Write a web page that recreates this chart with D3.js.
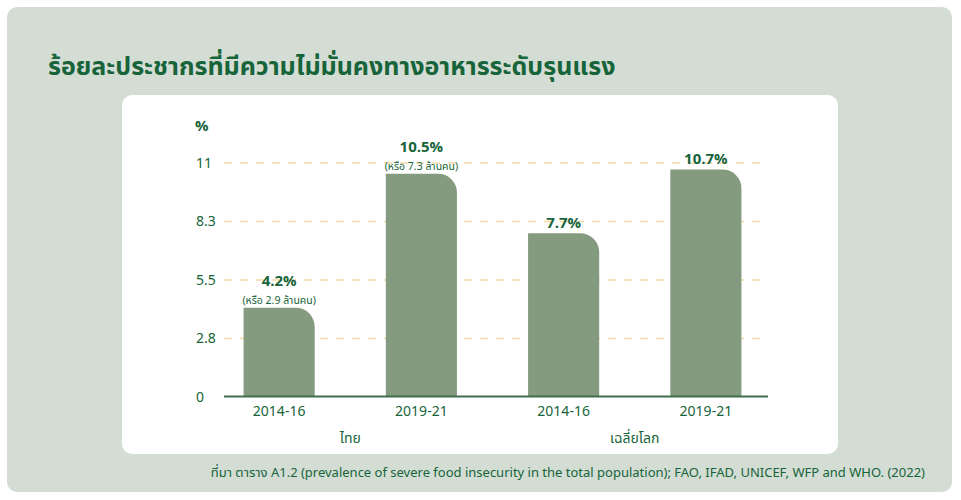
<!DOCTYPE html>
<html>
<head>
<meta charset="utf-8">
<script src="https://cdn.jsdelivr.net/npm/d3@7"></script>
<style>
  body { margin: 0; background: #ffffff; }
  svg text { font-family: "Noto Sans Thai", "Noto Sans", "Open Sans", sans-serif; }
</style>
</head>
<body>
<div id="container"></div>
<script>
/* DATA */
const periods = ["2014-16", "2019-21", "2014-16", "2019-21"]
const groups = ["ไทย", "ไทย", "เฉลี่ยโลก", "เฉลี่ยโลก"]
const groupNames = ["ไทย", "เฉลี่ยโลก"]
const values = [4.2, 10.5, 7.7, 10.7]
const notes = ["(หรือ 2.9 ล้านคน)", "(หรือ 7.3 ล้านคน)", "", ""]
const yTicks = [0, 2.75, 5.5, 8.25, 11]
const yTickLabels = ["0", "2.8", "5.5", "8.3", "11"]

const title = "ร้อยละประชากรที่มีความไม่มั่นคงทางอาหารระดับรุนแรง"
const source = "ที่มา ตาราง A1.2 (prevalence of severe food insecurity in the total population); FAO, IFAD, UNICEF, WFP and WHO. (2022)"

/* CONSTANTS */
const width = 961, height = 500
const darkGreen = "#17643a"
const barColor = "#849b80"

const data = values.map((v, i) => ({ i: i, value: v, period: periods[i], group: groups[i], note: notes[i] }))

const svg = d3.select("#container").append("svg")
  .attr("width", width)
  .attr("height", height)

/* background panel + white card */
svg.append("rect")
  .attr("x", 7).attr("y", 7).attr("width", 945).attr("height", 485)
  .attr("rx", 10).attr("fill", "#d3ddd4")

svg.append("rect")
  .attr("x", 122).attr("y", 95).attr("width", 716).attr("height", 359)
  .attr("rx", 10).attr("fill", "#ffffff")

svg.append("text")
  .attr("x", 48).attr("y", 75)
  .style("font-size", "25px").style("font-weight", "bold")
  .attr("fill", darkGreen)
  .text(title)

/* SCALES */
const xScale = d3.scaleBand()
  .domain(d3.range(values.length))
  .range([208, 777])
  .paddingInner(0.5)
  .paddingOuter(0.25)

const yScale = d3.scaleLinear()
  .domain([0, 11])
  .range([397, 163])

/* GRID */
svg.append("g")
  .selectAll("line")
  .data(yTicks.filter(d => d > 0))
  .join("line")
  .attr("x1", 224).attr("x2", 766)
  .attr("y1", d => yScale(d)).attr("y2", d => yScale(d))
  .attr("stroke", "#f6d9a9")
  .attr("stroke-width", 1.5)
  .attr("stroke-dasharray", "8 8")

/* Y AXIS labels */
const yAxis = d3.axisLeft(yScale)
  .tickValues(yTicks)
  .tickFormat((d, i) => yTickLabels[i])
  .tickSize(0)

const yAxisGroup = svg.append("g")
  .attr("transform", "translate(196, 0)")
  .call(yAxis)
yAxisGroup.select(".domain").remove()
yAxisGroup.selectAll("text")
  .attr("x", 0)
  .attr("text-anchor", "start")
  .attr("fill", darkGreen)
  .style("font-size", "14px")

svg.append("text")
  .attr("x", 195).attr("y", 131)
  .style("font-size", "15px").style("font-weight", "bold")
  .attr("fill", darkGreen)
  .text("%")

/* BARS: only top-right corner rounded */
const r = 19
function barPath(d) {
  const x0 = xScale(d.i), x1 = x0 + xScale.bandwidth()
  const y0 = yScale(d.value), yb = yScale(0)
  return `M${x0},${yb}V${y0}H${x1 - r}A${r},${r} 0 0 1 ${x1},${y0 + r}V${yb}Z`
}

svg.append("g")
  .selectAll("path")
  .data(data)
  .join("path")
  .attr("d", barPath)
  .attr("fill", barColor)

/* X AXIS */
const xAxis = d3.axisBottom(xScale)
  .tickFormat(i => periods[i])
  .tickSize(0)
  .tickPadding(9)

const xAxisGroup = svg.append("g")
  .attr("transform", `translate(0, ${yScale(0)})`)
  .call(xAxis)
xAxisGroup.select(".domain").remove()
xAxisGroup.selectAll("text")
  .attr("fill", darkGreen)
  .style("font-size", "14px")

svg.append("line")
  .attr("x1", 224).attr("x2", 768)
  .attr("y1", yScale(0) - 0.5).attr("y2", yScale(0) - 0.5)
  .attr("stroke", "#3e6e4e")
  .attr("stroke-width", 2)

/* group labels */
svg.append("g")
  .selectAll("text")
  .data(groupNames)
  .join("text")
  .attr("x", g => {
    const idx = data.filter(d => d.group === g).map(d => xScale(d.i) + xScale.bandwidth() / 2)
    return d3.mean(idx)
  })
  .attr("y", 443)
  .attr("text-anchor", "middle")
  .attr("fill", darkGreen)
  .style("font-size", "14px")
  .text(g => g)

/* value labels */
svg.append("g")
  .selectAll("text")
  .data(data)
  .join("text")
  .attr("x", d => xScale(d.i) + xScale.bandwidth() / 2)
  .attr("y", d => yScale(d.value) - (d.note ? 22 : 5))
  .attr("text-anchor", "middle")
  .attr("fill", darkGreen)
  .style("font-size", "15px").style("font-weight", "bold")
  .text(d => d.value.toFixed(1) + "%")

svg.append("g")
  .selectAll("text")
  .data(data.filter(d => d.note))
  .join("text")
  .attr("x", d => xScale(d.i) + xScale.bandwidth() / 2)
  .attr("y", d => yScale(d.value) - 4)
  .attr("text-anchor", "middle")
  .attr("fill", darkGreen)
  .style("font-size", "10.5px")
  .text(d => d.note)

/* source */
svg.append("text")
  .attr("x", 925).attr("y", 477)
  .attr("text-anchor", "end")
  .attr("fill", darkGreen)
  .style("font-size", "13px")
  .text(source)
</script>
</body>
</html>
